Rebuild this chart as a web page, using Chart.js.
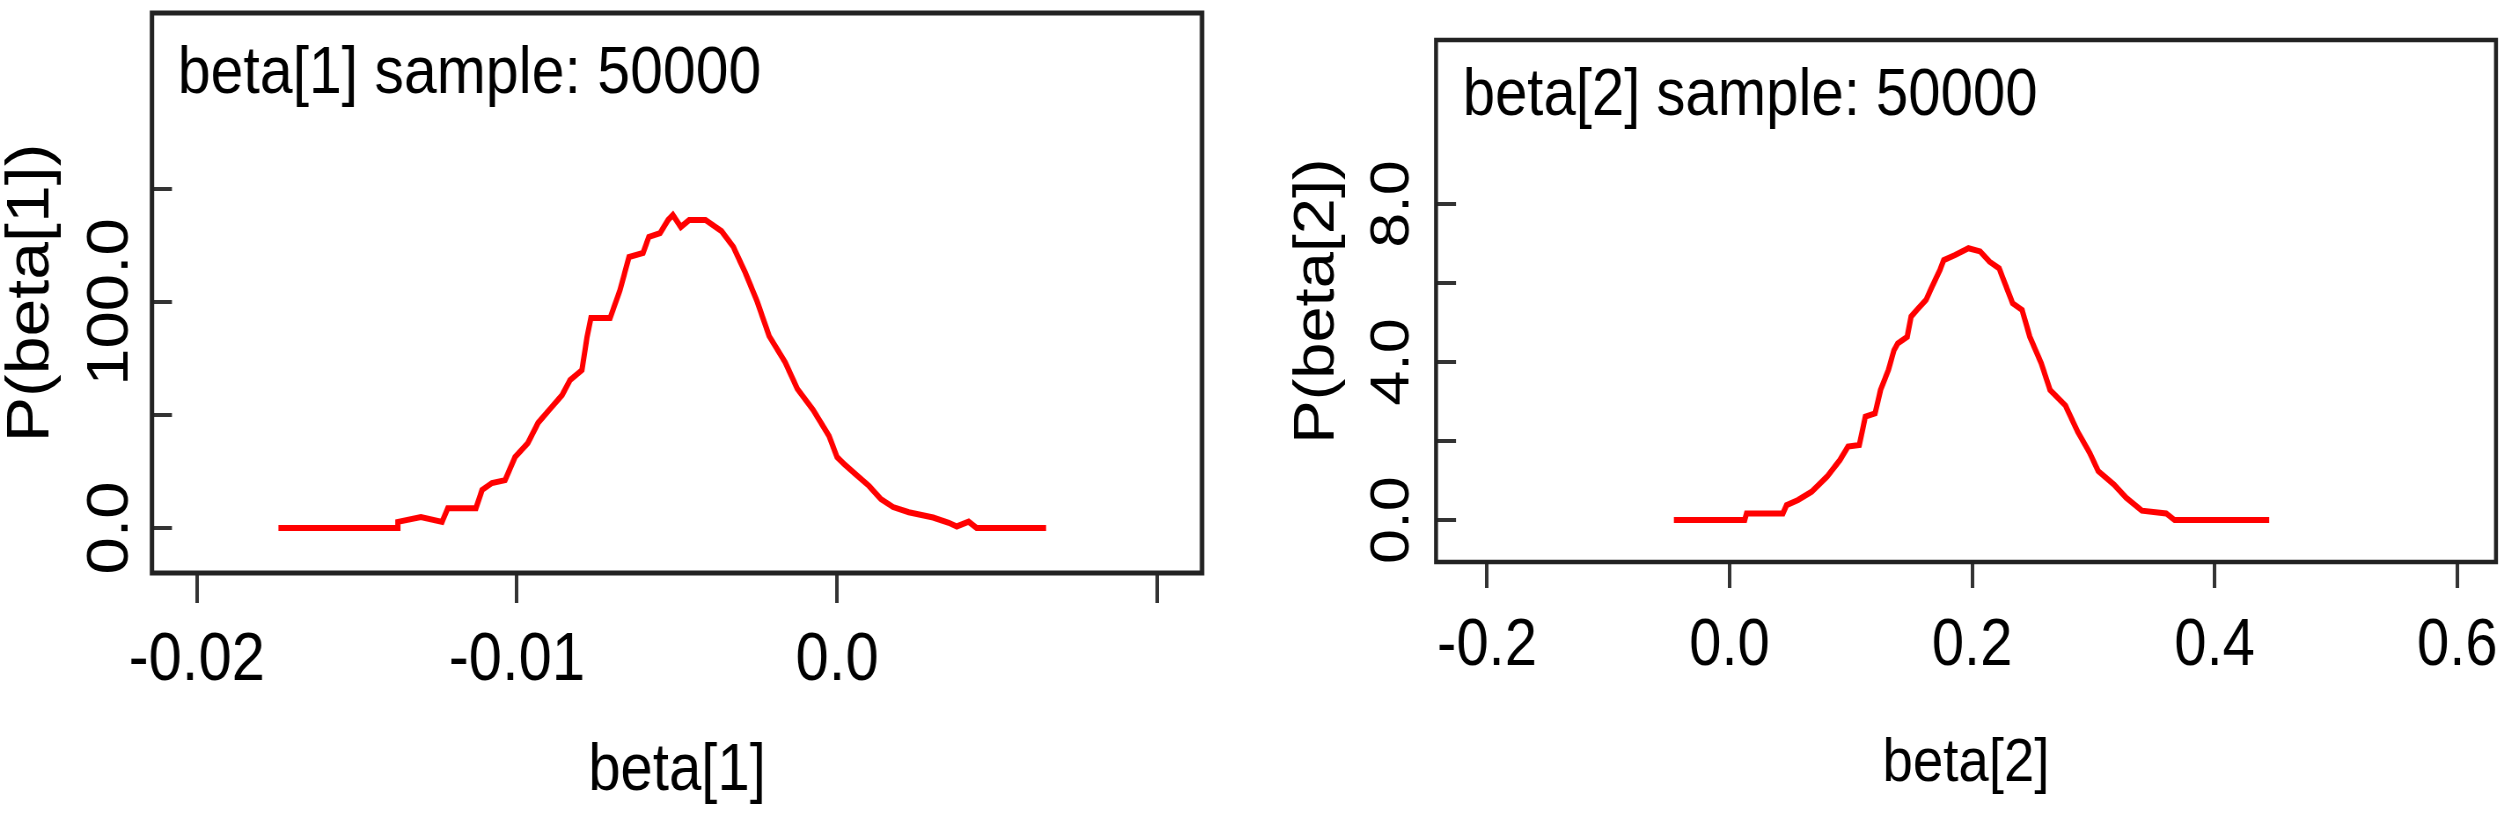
<!DOCTYPE html>
<html>
<head>
<meta charset="UTF-8">
<title>beta[1] / beta[2] sample: 50000</title>
<script src="https://cdn.jsdelivr.net/npm/chart.js"></script>
<style>
  html, body { margin: 0; padding: 0; background: #fff; }
  body { width: 2508px; height: 825px; position: relative; overflow: hidden; }
  /* the source picture is squeezed sideways, so each panel is drawn wider and squeezed back */
  .panel { position: absolute; top: 0; height: 825px; transform-origin: 0 0; transform: scaleX(0.88); }
  #panel1 { left: 0; width: 1420px; }
  #panel2 { left: 1250px; width: 1430px; }
</style>
</head>
<body>
<div class="panel" id="panel1"><canvas id="chart1"></canvas></div>
<div class="panel" id="panel2"><canvas id="chart2"></canvas></div>
<script>
// beta[1] density
const beta1X = [-0.01745, -0.01372, -0.01372, -0.0130, -0.01234, -0.01216, -0.01128, -0.01109, -0.01078, -0.01037,
  -0.01006, -0.00966, -0.00934, -0.00894, -0.00859, -0.00834, -0.00797, -0.00781, -0.00769, -0.00709,
  -0.00678, -0.0065, -0.00606, -0.00588, -0.00553, -0.00528, -0.00513, -0.00488, -0.00462, -0.00411,
  -0.00361, -0.00324, -0.00286, -0.00249, -0.00212, -0.00162, -0.00124, -0.00075, -0.00025, 0.0,
  0.00025, 0.00062, 0.0010, 0.00137, 0.00175, 0.00224, 0.0030, 0.00349, 0.00374, 0.00411, 0.00436, 0.00653];
const beta1Y = [0, 0, 2.7, 4.9, 2.7, 8.8, 8.8, 16.8, 19.9, 21.2,
  31.4, 37.6, 46.5, 53.1, 58.8, 65.5, 69.9, 84.5, 92.9, 92.9,
  105.3, 119.9, 121.7, 128.8, 130.5, 136.3, 138.5, 133.2, 136.3, 136.3,
  131.4, 124.4, 112.8, 100, 84.9, 73.3, 61.6, 52.3, 40.7, 31.4,
  27.9, 23.3, 18.6, 12.8, 9.3, 7.0, 4.65, 2.3, 0.7, 2.8, 0, 0];
const beta1XTicks = [-0.02, -0.01, 0.0, 0.01];
const beta1XLabels = ['-0.02', '-0.01', '0.0', ''];
const beta1YTicks = [0, 50, 100, 150];
const beta1YLabels = ['0.0', '', '100.0', ''];

// beta[2] density
const beta2X = [-0.0459, 0.0125, 0.014, 0.044, 0.047, 0.0565, 0.0677, 0.0804, 0.091, 0.0977,
  0.107, 0.112, 0.12, 0.1245, 0.131, 0.1356, 0.1387, 0.1465, 0.1497, 0.1545,
  0.162, 0.167, 0.1735, 0.1766, 0.186, 0.197, 0.2066, 0.2144, 0.2223, 0.2271,
  0.2334, 0.2412, 0.2476, 0.257, 0.2643, 0.277, 0.287, 0.297, 0.304, 0.317,
  0.327, 0.340, 0.360, 0.367, 0.445];
const beta2Y = [0, 0, 0.17, 0.17, 0.38, 0.51, 0.72, 1.1, 1.52, 1.86,
  1.9, 2.62, 2.7, 3.29, 3.8, 4.3, 4.47, 4.64, 5.15, 5.32,
  5.57, 5.91, 6.33, 6.58, 6.71, 6.88, 6.8, 6.54, 6.37, 5.99,
  5.49, 5.32, 4.64, 3.97, 3.29, 2.9, 2.24, 1.7, 1.24, 0.9,
  0.57, 0.24, 0.17, 0, 0];
const beta2XTicks = [-0.2, 0.0, 0.2, 0.4, 0.6];
const beta2XLabels = ['-0.2', '0.0', '0.2', '0.4', '0.6'];
const beta2YTicks = [0, 2, 4, 6, 8];
const beta2YLabels = ['0.0', '', '4.0', '', '8.0'];

const FONT = "'Liberation Sans', Arial, sans-serif";

// full box round the plot area + the "sample" caption inside it
const framePlugin = {
  id: 'frame',
  afterDraw(chart, args, opts) {
    const { ctx, chartArea: a } = chart;
    ctx.save();
    ctx.strokeStyle = '#222';
    ctx.lineWidth = opts.lineWidth;
    ctx.strokeRect(a.left, a.top, a.right - a.left, a.bottom - a.top);
    ctx.fillStyle = '#000';
    ctx.font = opts.size + 'px ' + FONT;
    ctx.textBaseline = 'alphabetic';
    ctx.textAlign = 'left';
    ctx.fillText(opts.text, a.left + opts.dx, a.top + opts.dy);
    ctx.restore();
  }
};

function drawPanel(id, xs, ys, xTicks, xLabels, yTicks, yLabels, c) {
  new Chart(document.getElementById(id), {
    type: 'line',
    data: {
      datasets: [{
        label: c.caption,
        data: xs.map((x, i) => ({ x: x, y: ys[i] })),
        borderColor: '#ff0000',
        borderWidth: 6,
        pointRadius: 0,
        tension: 0,
        fill: false
      }]
    },
    options: {
      responsive: true,
      maintainAspectRatio: false,
      animation: false,
      layout: { padding: c.padding },
      plugins: {
        legend: { display: false },
        tooltip: { enabled: false },
        frame: { text: c.caption, size: c.captionSize, dx: c.captionDx, dy: c.captionDy, lineWidth: c.frameWidth }
      },
      scales: {
        x: {
          type: 'linear',
          min: c.xMin,
          max: c.xMax,
          afterBuildTicks: s => { s.ticks = xTicks.map(v => ({ value: v })); },
          afterFit: s => { s.height = c.xHeight; s.paddingLeft = 0; s.paddingRight = 0; },
          border: { display: false },
          grid: { drawOnChartArea: false, drawTicks: true, tickLength: c.xTick, color: '#333', lineWidth: 4 },
          ticks: {
            autoSkip: false, minRotation: 0, maxRotation: 0,
            padding: c.xPad, color: '#000',
            font: { family: FONT, size: c.xFont },
            callback: (v, i) => xLabels[i]
          },
          title: {
            display: true, text: c.xTitle, color: '#000',
            font: { family: FONT, size: c.xTitleFont },
            padding: { top: 0, bottom: c.xTitlePad }
          }
        },
        y: {
          type: 'linear',
          min: c.yMin,
          max: c.yMax,
          afterBuildTicks: s => { s.ticks = yTicks.map(v => ({ value: v })); },
          afterFit: s => { s.width = c.yWidth; s.paddingTop = 0; s.paddingBottom = 0; },
          border: { display: false },
          // negative length: ticks point into the box
          grid: { drawOnChartArea: false, drawTicks: true, tickLength: -c.yTick, color: '#333', lineWidth: 4 },
          ticks: {
            autoSkip: false, minRotation: 90, maxRotation: 90, crossAlign: 'center',
            padding: c.yPad, color: '#000',
            font: { family: FONT, size: c.yFont },
            callback: (v, i) => yLabels[i]
          },
          title: {
            display: true, text: c.yTitle, color: '#000',
            font: { family: FONT, size: c.yTitleFont, lineHeight: 1 },
            padding: { top: c.yTitlePad, bottom: 0 }
          }
        }
      }
    },
    plugins: [framePlugin]
  });
}

drawPanel('chart1', beta1X, beta1Y, beta1XTicks, beta1XLabels, beta1YTicks, beta1YLabels, {
  caption: 'beta[1] sample: 50000', captionSize: 67, captionDx: 29.3, captionDy: 80, frameWidth: 5,
  padding: { left: 0, top: 13, right: 54.1, bottom: 0 },
  xMin: -0.0214, xMax: 0.0114, yMin: -19.9, yMax: 227.9,
  xHeight: 252, yWidth: 172.7,
  xTick: 30, xPad: 17.2, xFont: 68, xTitle: 'beta[1]', xTitleFont: 66, xTitlePad: 14,
  yTick: 22.7, yPad: -15, yFont: 67, yTitle: 'P(beta[1])', yTitleFont: 68, yTitlePad: 1.8
});

drawPanel('chart2', beta2X, beta2Y, beta2XTicks, beta2XLabels, beta2YTicks, beta2YLabels, {
  caption: 'beta[2] sample: 50000', captionSize: 66, captionDx: 30.3, captionDy: 75, frameWidth: 4.5,
  padding: { left: 0, top: 40, right: 14.1, bottom: 0 },
  xMin: -0.242, xMax: 0.632, yMin: -1.06, yMax: 12.15,
  xHeight: 263, yWidth: 211.4,
  xTick: 26, xPad: 19, xFont: 66, xTitle: 'beta[2]', xTitleFont: 62, xTitlePad: 24,
  yTick: 22.7, yPad: 27.8, yFont: 63, yTitle: 'P(beta[2])', yTitleFont: 65, yTitlePad: 44.8
});
</script>
</body>
</html>
